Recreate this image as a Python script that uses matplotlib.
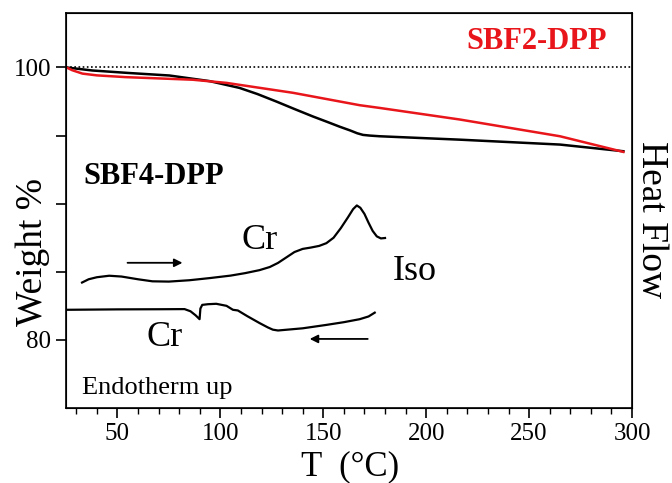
import matplotlib
matplotlib.use("Agg")
import matplotlib.pyplot as plt

# =========================================================
# DATA
# =========================================================

# TGA, weight %
T_SBF4 = [25.3, 37.7, 55.0, 75.3, 94.7, 109.3, 118.0, 127.2, 136.0, 145.0,
          152.0, 158.0, 163.0, 166.5, 169.3, 172.6, 177.4, 216.3, 265.0, 295.8]
W_SBF4 = [100.0, 99.78, 99.6, 99.41, 99.0, 98.5, 98.05, 97.5, 96.95, 96.4,
          96.0, 95.65, 95.38, 95.17, 95.05, 95.0, 94.95, 94.7, 94.34, 93.85]

T_SBF2 = [25.3, 28.0, 33.0, 40.0, 54.2, 86.6, 102.9, 135.3, 167.7, 177.4,
          216.3, 265.0, 295.8]
W_SBF2 = [100.0, 99.8, 99.55, 99.42, 99.29, 99.1, 98.87, 98.14, 97.23, 97.03,
          96.18, 94.95, 93.8]

# DSC of SBF4-DPP (arbitrary heat-flow units, shown on the right axis)
T_HEAT = [32.8, 36.0, 40.0, 46.0, 52.0, 60.0, 67.0, 75.0, 85.0, 95.0, 105.0,
          112.0, 119.0, 124.0, 128.0, 132.0, 136.0, 140.0, 144.0, 148.0, 151.5,
          155.0, 158.5, 162.0, 164.5, 166.3, 168.0, 170.0, 172.0, 174.0, 176.0,
          178.0, 180.0]
Q_HEAT = [84.21, 84.45, 84.6, 84.71, 84.65, 84.45, 84.3, 84.28, 84.38, 84.54,
          84.72, 84.9, 85.12, 85.35, 85.65, 86.05, 86.45, 86.68, 86.78, 86.9,
          87.1, 87.5, 88.2, 89.0, 89.6, 89.87, 89.7, 89.25, 88.6, 88.0, 87.6,
          87.45, 87.48]

T_COOL = [25.8, 50.0, 70.0, 82.6, 85.5, 88.0, 89.9, 90.3, 91.2, 94.0, 98.0,
          103.0, 106.1, 108.5, 113.0, 119.1, 123.0, 125.5, 128.0, 140.0, 151.5,
          160.0, 167.7, 172.0, 175.0]
Q_COOL = [82.21, 82.24, 82.25, 82.26, 82.1, 81.8, 81.52, 82.3, 82.57, 82.62,
          82.65, 82.5, 82.21, 82.16, 81.75, 81.23, 80.92, 80.75, 80.69, 80.85,
          81.1, 81.3, 81.52, 81.72, 82.0]

SERIF = "Liberation Serif"
RED = "#e8161b"

# =========================================================
# FIGURE
# =========================================================

plt.rcParams["font.family"] = SERIF

fig = plt.figure(figsize=(6.72, 4.83), dpi=100)
ax = fig.add_axes([0.0982, 0.1553, 0.8423, 0.8178])

ax.axhline(100, color="black", lw=1.2, ls=(0, (1, 1.5)))
ax.plot(T_SBF4, W_SBF4, color="black", lw=1.8)
ax.plot(T_SBF2, W_SBF2, color=RED, lw=1.8)

ax.set_xlim(25, 300)
ax.set_ylim(75, 104)
ax.set_xticks([50, 100, 150, 200, 250, 300])
ax.set_xticks(range(30, 300, 10), minor=True)
ax.set_yticks([80, 85, 90, 95, 100])
ax.set_yticklabels(["80", "", "", "", "100"])
ax.tick_params(axis="both", which="major", direction="out", length=7, width=1.2,
               labelsize=18)
ax.tick_params(axis="x", which="minor", direction="out", length=4, width=1.0)
for sp in ax.spines.values():
    sp.set_linewidth(1.2)

ax.set_xlabel("T  (°C)", fontsize=25)
ax.xaxis.set_label_coords(0.502, -0.108)
ax.set_ylabel("Weight %", fontsize=27)
ax.yaxis.set_label_coords(-0.028, 0.395)

# DSC on a twin axis without ticks
ax2 = ax.twinx()
ax2.set_ylim(ax.get_ylim())
ax2.plot(T_HEAT, Q_HEAT, color="black", lw=1.6)
ax2.plot(T_COOL, Q_COOL, color="black", lw=1.6)
ax2.set_yticks([])
ax2.set_ylabel("Heat Flow", fontsize=27, rotation=270)
ax2.yaxis.set_label_coords(1.064, 0.476)

ax.text(253.8, 101.9, "SBF2-DPP", color=RED, fontsize=22, fontweight="bold",
        ha="center", va="center")
ax.text(67.8, 92.0, "SBF4-DPP", color="black", fontsize=22, fontweight="bold",
        ha="center", va="center")
ax.text(119.1, 87.3, "Cr", fontsize=26, ha="center", va="center")
ax.text(72.9, 80.2, "Cr", fontsize=26, ha="center", va="center")
ax.text(194.5, 85.0, "Iso", fontsize=26, ha="center", va="center")
ax.text(33.0, 76.5, "Endotherm up", fontsize=19, ha="left", va="center")

ax.annotate("", xy=(81.6, 85.66), xytext=(54.9, 85.66),
            arrowprops=dict(arrowstyle="-|>", color="black", lw=1.3,
                            mutation_scale=12, shrinkA=0, shrinkB=0))
ax.annotate("", xy=(143.4, 80.07), xytext=(171.6, 80.07),
            arrowprops=dict(arrowstyle="-|>", color="black", lw=1.3,
                            mutation_scale=12, shrinkA=0, shrinkB=0))

fig.savefig("out.png", dpi=100)
